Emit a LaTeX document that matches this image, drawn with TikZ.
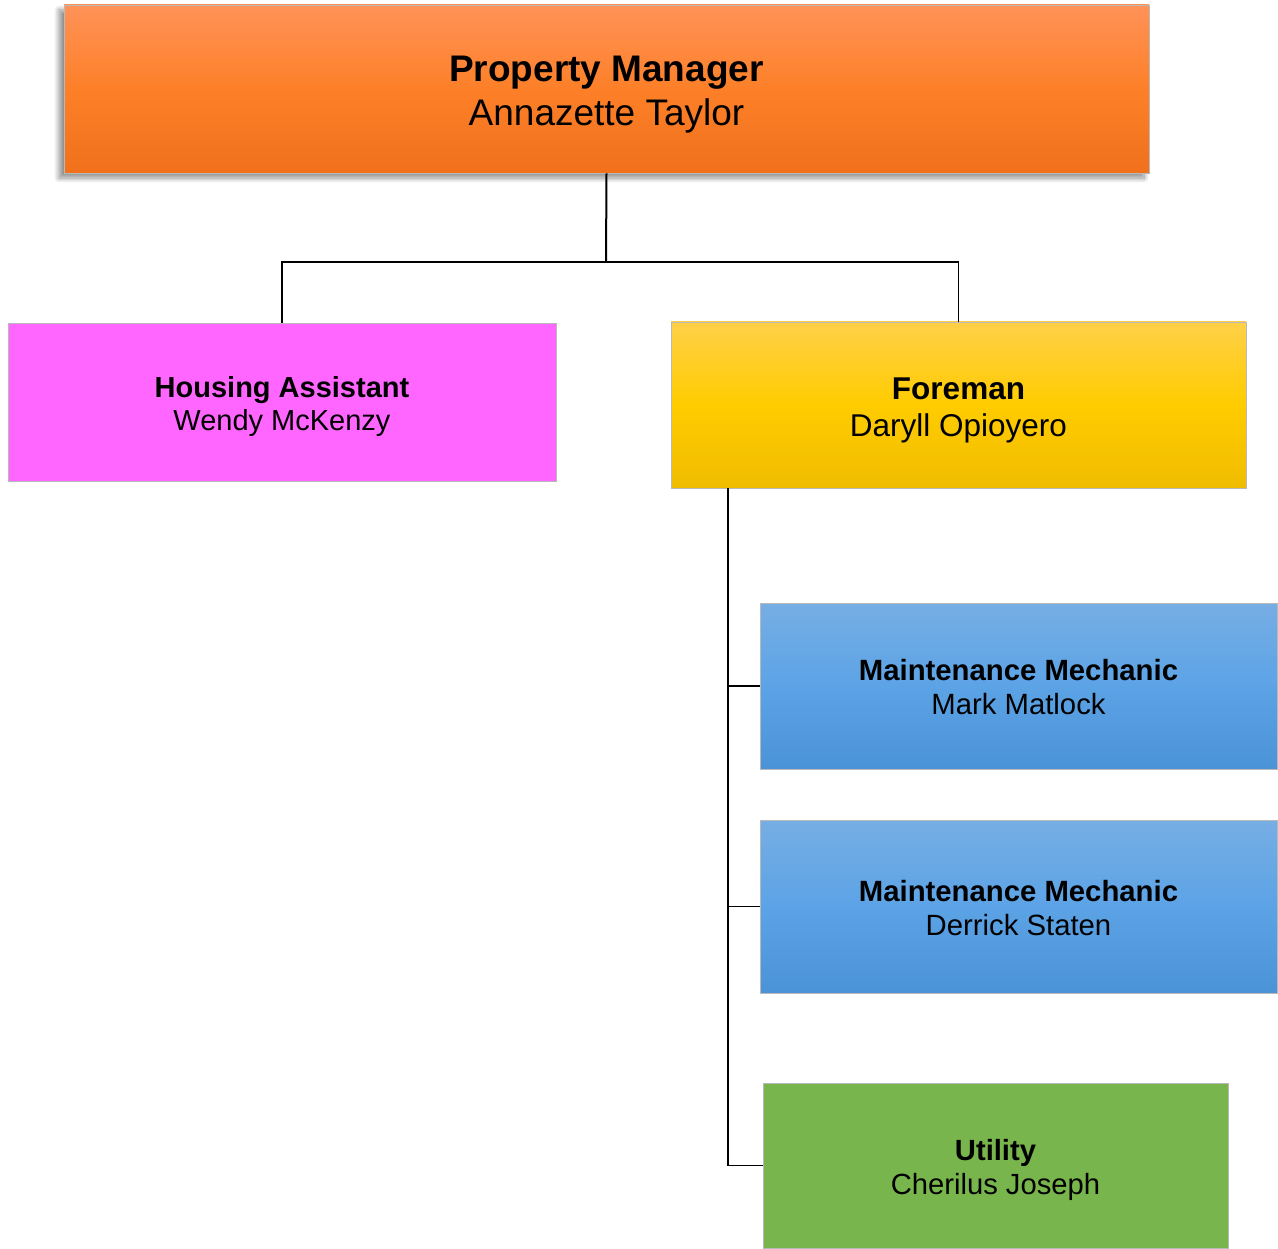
\documentclass[tikz,border=0pt]{standalone}
\usepackage{fontspec}
\setmainfont{Liberation Sans}
\usetikzlibrary{shadows.blur}
\definecolor{orgtop}{RGB}{255,146,88}
\definecolor{orgmid}{RGB}{253,128,40}
\definecolor{orgbot}{RGB}{240,112,28}
\definecolor{yeltop}{RGB}{255,208,72}
\definecolor{yelmid}{RGB}{255,204,0}
\definecolor{yelbot}{RGB}{240,188,0}
\definecolor{blutop}{RGB}{118,174,228}
\definecolor{blumid}{RGB}{92,163,230}
\definecolor{blubot}{RGB}{74,147,214}
\definecolor{grnbox}{RGB}{120,181,76}
\definecolor{magbox}{RGB}{255,102,255}

\begin{document}
\begin{tikzpicture}[x=1pt,y=-1pt]
  \tikzset{box style/.style = {draw=gray!55, line width=0.8pt, inner sep=0pt, align=center,
             execute at begin node={\rule{0pt}{\dimexpr\baselineskip+1.05em\relax}},
             execute at end node={\rule[-0.25em]{0pt}{0pt}}},
           link style/.style = {draw=black, line width=1.2pt}}
  \useasboundingbox (0,0) rectangle (1278,1249);

  \node[box style, minimum width=1085pt, minimum height=168pt,
        top color=orgtop, bottom color=orgbot, middle color=orgmid,
        blur shadow={shadow xshift=-5pt, shadow yshift=-5pt, shadow blur radius=5pt,
                     shadow blur steps=10, shadow opacity=45},
        font=\fontsize{37}{44}\selectfont] (pm) at (606.5,89)
        {\textbf{Property Manager}\\Annazette Taylor};

  \node[box style, minimum width=548pt, minimum height=158pt, fill=magbox,
        font=\fontsize{29}{33}\selectfont] (ha) at (282,402)
        {\textbf{Housing Assistant}\\Wendy McKenzy};

  \node[box style, minimum width=575pt, minimum height=166pt,
        top color=yeltop, bottom color=yelbot, middle color=yelmid,
        font=\fontsize{31.5}{37}\selectfont] (fm) at (958.5,405)
        {\textbf{Foreman}\\Daryll Opioyero};

  \node[box style, minimum width=517pt, minimum height=166pt,
        top color=blutop, bottom color=blubot, middle color=blumid,
        font=\fontsize{29.3}{34}\selectfont] (mm1) at (1018.5,686)
        {\textbf{Maintenance Mechanic}\\Mark Matlock};

  \node[box style, minimum width=517pt, minimum height=173pt,
        top color=blutop, bottom color=blubot, middle color=blumid,
        font=\fontsize{29.3}{34}\selectfont] (mm2) at (1018.5,906.5)
        {\textbf{Maintenance Mechanic}\\Derrick Staten};

  \node[box style, minimum width=465pt, minimum height=165pt, fill=grnbox,
        font=\fontsize{29.2}{34}\selectfont] (ut) at (995.5,1165.5)
        {\textbf{Utility}\\Cherilus Joseph};

  % connectors
  \coordinate (jn) at (606,262);
  \coordinate (fmb) at (728,488);
  \draw[link style, line width=2pt] (pm.south) -- (jn);
  \draw[link style] (ha.north) |- (jn) -| (fm.north);
  \draw[link style] (fmb) |- (ut.west);
  \draw[link style] (fmb |- mm1.west) -- (mm1.west);
  \draw[link style] (fmb |- mm2.west) -- (mm2.west);
\end{tikzpicture}
\end{document}
